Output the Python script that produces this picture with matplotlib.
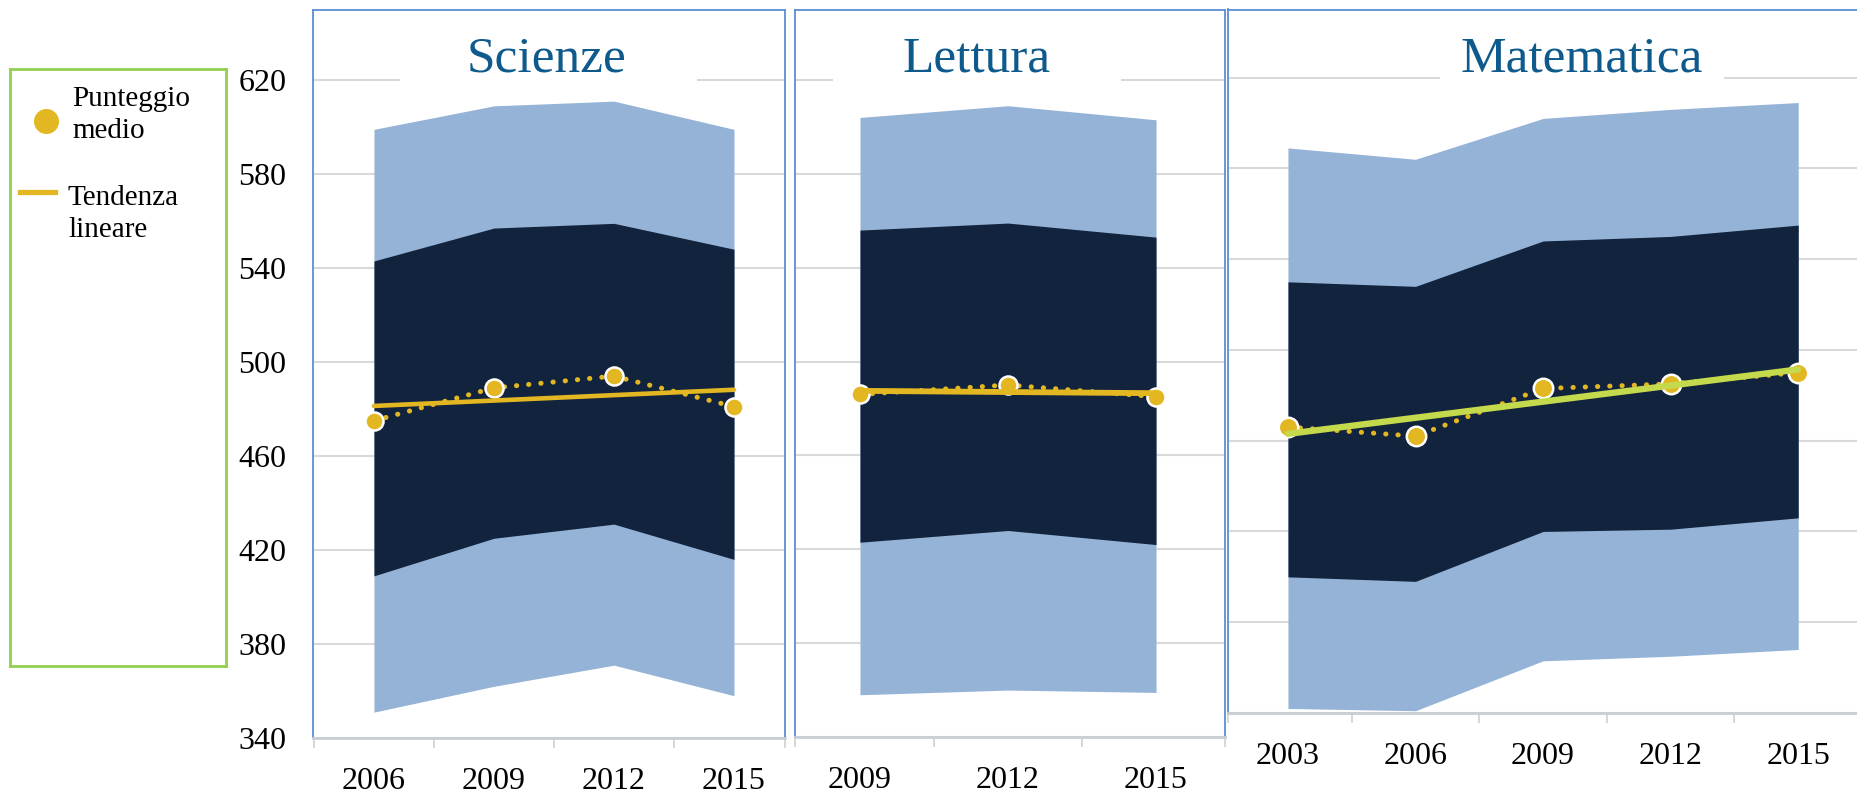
import numpy as np
import matplotlib.pyplot as plt
from matplotlib.patches import Rectangle

# PISA scores: mean plus two percentile bands per subject
sci_years = ['2006', '2009', '2012', '2015']
sci_mean = [475, 489, 494, 481]
sci_outer_low = [351, 362, 371, 358]
sci_inner_low = [409, 425, 431, 416]
sci_inner_high = [543, 557, 559, 548]
sci_outer_high = [599, 609, 611, 599]

let_years = ['2009', '2012', '2015']
let_mean = [486, 490, 485]
let_outer_low = [358, 360, 359]
let_inner_low = [423, 428, 422]
let_inner_high = [556, 559, 553]
let_outer_high = [604, 609, 603]

mat_years = ['2003', '2006', '2009', '2012', '2015']
mat_mean = [466, 462, 483, 485, 490]
mat_outer_low = [342, 341, 363, 365, 368]
mat_inner_low = [400, 398, 420, 421, 426]
mat_inner_high = [530, 528, 548, 550, 555]
mat_outer_high = [589, 584, 602, 606, 609]

yticks = list(range(340, 621, 40))

LIGHT = '#95B3D7'
DARK = '#12233D'
GOLD = '#E3B722'
GREEN = '#C4D94C'
FRAME = '#5B8ED6'
TITLE = '#0F5A8C'
SERIF = 'Liberation Serif'

W, H = 1857, 795
fig = plt.figure(figsize=(W / 100, H / 100), dpi=100)


def px(x0, y0, x1, y1):
    # pixel box (top-left origin) -> figure fraction rect
    return [x0 / W, 1 - y1 / H, (x1 - x0) / W, (y1 - y0) / H]


def panel(rect, years, mean, ol, il, ih, oh, xlim, bounds, trend_col, trend_lw, ms, show_y):
    ax = fig.add_axes(rect)
    x = np.arange(len(years))
    ax.fill_between(x, ol, oh, color=LIGHT, lw=0, zorder=2)
    ax.fill_between(x, il, ih, color=DARK, lw=0, zorder=2.1)
    ax.plot(x, mean, ls=(0, (0.05, 2.4)), lw=3.6, color=GOLD,
            dash_capstyle='round', zorder=3)
    ax.plot(x, mean, 'o', ls='none', ms=ms, mfc=GOLD, mec='white', mew=1.8, zorder=4)
    # linear trend
    coef = np.polyfit(x, mean, 1)
    ends = x[[0, -1]]
    ax.plot(ends, np.polyval(coef, ends), color=trend_col, lw=trend_lw,
            solid_capstyle='round', zorder=5)

    ax.set_xlim(xlim)
    ax.set_ylim(340, 650)
    ax.set_yticks(yticks)
    ax.grid(axis='y', color='#D9D9D9', lw=1.5)
    ax.set_axisbelow(True)
    if show_y:
        ax.set_yticklabels([str(v) for v in yticks], fontsize=23, family=SERIF)
        ax.tick_params(axis='y', length=0, pad=19)
    else:
        ax.set_yticklabels([])
        ax.tick_params(axis='y', length=0)

    ax.set_xticks(bounds)
    ax.set_xticklabels([])
    ax.set_xticks(x, minor=True)
    ax.set_xticklabels(years, minor=True, fontsize=23, family=SERIF)
    ax.tick_params(axis='x', which='major', length=7, width=1.2, color='#D0D0D0')
    ax.tick_params(axis='x', which='minor', length=0, pad=21)

    for s in ['left', 'top', 'right']:
        ax.spines[s].set_color(FRAME)
        ax.spines[s].set_linewidth(1.3)
    ax.spines['bottom'].set_color('#C9CDD5')
    ax.spines['bottom'].set_linewidth(2)
    return ax


ax1 = panel(px(313, 9.5, 785, 738), sci_years, sci_mean, sci_outer_low, sci_inner_low,
            sci_inner_high, sci_outer_high, (-0.508, 3.425), [-0.5, 0.5, 1.5, 2.5, 3.425],
            GOLD, 3.3, 13, True)
ax2 = panel(px(795, 9.5, 1225, 737), let_years, let_mean, let_outer_low, let_inner_low,
            let_inner_high, let_outer_high, (-0.439, 2.466), [-0.439, 0.5, 1.5, 2.466],
            GOLD, 4.2, 13, False)
ax3 = panel(px(1228, 9.5, 1862, 713), mat_years, mat_mean, mat_outer_low, mat_inner_low,
            mat_inner_high, mat_outer_high, (-0.47, 4.5), [-0.47, 0.5, 1.5, 2.5, 3.5],
            GREEN, 4.6, 14, False)

# titles with white boxes that hide the top gridline
for ax, name, cx, bx0, bx1 in [(ax1, 'Scienze', 547, 400, 697),
                               (ax2, 'Lettura', 977, 833, 1121),
                               (ax3, 'Matematica', 1582, 1440, 1724)]:
    r = px(bx0, 16, bx1, 92)
    ax.add_patch(Rectangle((r[0], r[1]), r[2], r[3], transform=fig.transFigure,
                           facecolor='white', edgecolor='none', zorder=1, clip_on=False))
    fig.text(cx / W, 1 - 59 / H, name, ha='center', va='center',
             fontsize=37, family=SERIF, color=TITLE)

# legend box
lg = fig.add_axes(px(9.5, 69, 226, 666))
lg.set_xlim(9.5, 226)
lg.set_ylim(666, 69)
lg.set_xticks([])
lg.set_yticks([])
for s in lg.spines.values():
    s.set_color('#92D050')
    s.set_linewidth(2)
lg.plot([46], [121], 'o', ms=17, color=GOLD)
lg.text(72, 115, 'Punteggio\nmedio', va='center', ha='left', fontsize=21,
        family=SERIF, linespacing=1.28)
lg.plot([20, 55], [192, 192], color=GOLD, lw=3.8)
lg.text(68, 214, 'Tendenza\nlineare', va='center', ha='left', fontsize=21,
        family=SERIF, linespacing=1.28)

fig.savefig('out.png', dpi=100)
